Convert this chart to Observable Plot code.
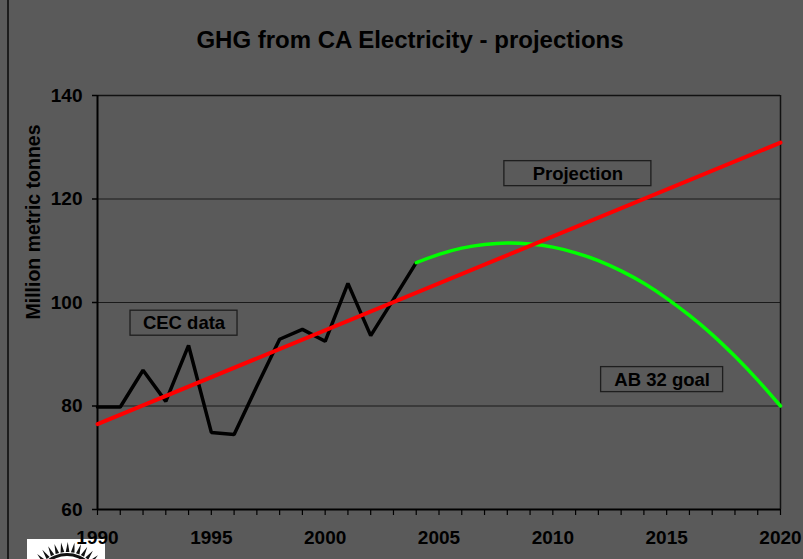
<!DOCTYPE html>
<html><head><meta charset="utf-8">
<script src="https://cdn.jsdelivr.net/npm/d3@7"></script>
<script src="https://cdn.jsdelivr.net/npm/@observablehq/plot@0.6"></script>
<style>
body{margin:0;background:#5a5a5a;}
#wrap{position:relative;width:803px;height:559px;background:#5a5a5a;overflow:hidden;font-family:"Liberation Sans",Arial,sans-serif;}
#edge{position:absolute;left:7px;top:0;width:1.5px;height:559px;background:#1c1c1c;}
#wrap svg{position:absolute;left:0;top:0;}
</style></head><body><div id="wrap"><div id="edge"></div></div>
<script>
// ---- data ----
const cecYears  = [1990,1991,1992,1993,1994,1995,1996,1997,1998,1999,2000,2001,2002,2003,2004];
const cecValues = [79.8,79.8,86.9,80.9,91.7,74.9,74.5,83.8,92.9,94.8,92.5,103.7,93.6,100.6,107.7];
const goalYears  = [2004,2005,2006,2007,2008,2009,2010,2011,2012,2013,2014,2015,2016,2017,2018,2019,2020];
const goalValues = [107.7,109.3,110.5,111.2,111.5,111.3,110.7,109.6,108.1,106.1,103.7,100.8,97.5,93.8,89.6,85.0,80.0];
const trendYears  = [1990,2020];
const trendValues = [76.5,130.9];
const yTicks = [60,80,100,120,140];
const gridValues = [80,100,120];
const xLabelTicks = [1990,1995,2000,2005,2010,2015,2020];
const xMinorTicks = [1990,1991,1992,1993,1994,1995,1996,1997,1998,1999,2000,2001,2002,2003,2004,2005,2006,2007,2008,2009,2010,2011,2012,2013,2014,2015,2016,2017,2018,2019,2020];
const annLabels = ["CEC data","Projection","AB 32 goal"];
const annX = [1993.8,2011.1,2014.8];
const annY = [96.0,124.9,85.1];
const titleText = "GHG from CA Electricity - projections";
const yLabelText = "Million metric tonnes";

// ---- tables ----
const cec = cecYears.map((x,i)=>({x, y: cecValues[i]}));
const goal = goalYears.map((x,i)=>({x, y: goalValues[i]}));
const trend = trendYears.map((x,i)=>({x, y: trendValues[i]}));
const anns = annLabels.map((t,i)=>({t, x: annX[i], y: annY[i]}));

const FONT = '"Liberation Sans", Arial, sans-serif';
const boxW = {"CEC data":107, "Projection":147, "AB 32 goal":122};
const boxH = 25;

const plot = Plot.plot({
  width: 803, height: 559,
  marginLeft: 97, marginRight: 23, marginTop: 95, marginBottom: 50,
  style: {background: "transparent", fontFamily: FONT, color: "#000", overflow: "visible"},
  x: {domain: [1990, 2020]},
  y: {domain: [60, 140]},
  marks: [
    Plot.ruleY(gridValues, {stroke: "#1a1a1a", strokeWidth: 1}),
    Plot.ruleY([140], {stroke: "#111", strokeWidth: 1.5}),
    Plot.ruleX([2020], {stroke: "#111", strokeWidth: 1.5}),
    Plot.axisY({ticks: yTicks, tickSize: 5, tickPadding: 10, fontSize: 19, fontWeight: "bold", label: null, strokeWidth: 1.5, tickFormat: d => String(d)}),
    Plot.axisX({ticks: xMinorTicks, tickSize: 6, tickFormat: () => "", label: null, strokeWidth: 1.2}),
    Plot.axisX({ticks: xLabelTicks, tickSize: 0, tickPadding: 21, tickFormat: d => String(d), fontSize: 19, fontWeight: "bold", label: null}),
    Plot.ruleX([1990], {stroke: "#000", strokeWidth: 2}),
    Plot.ruleY([60], {stroke: "#000", strokeWidth: 2}),
    Plot.line(cec, {x: "x", y: "y", stroke: "#000", strokeWidth: 3.5, strokeLinejoin: "miter"}),
    Plot.line(goal, {x: "x", y: "y", stroke: "#00ff00", strokeWidth: 3.5, curve: "natural"}),
    Plot.line(trend, {x: "x", y: "y", stroke: "#ff0000", strokeWidth: 4}),
    Plot.text(anns, {x: "x", y: "y", text: "t", fontSize: 18.5, fontWeight: "bold", fill: "#000"}),
    Plot.text([titleText], {frameAnchor: "top", dx: -29, dy: -48, lineAnchor: "bottom", textAnchor: "middle", fontSize: 24, fontWeight: "bold", fill: "#000"}),
    Plot.text([yLabelText], {frameAnchor: "top-left", dx: -64, dy: 126.5, rotate: -90, textAnchor: "middle", lineAnchor: "middle", fontSize: 19.5, fontWeight: "bold", fill: "#000"})
  ]
});
document.getElementById("wrap").appendChild(plot);

const svg = d3.select(plot);
const sx = plot.scale("x"), sy = plot.scale("y");

// annotation boxes
const boxes = svg.append("g");
anns.forEach(d => {
  const w = boxW[d.t];
  boxes.append("rect")
    .attr("x", sx.apply(d.x) - w/2)
    .attr("y", sy.apply(d.y) - boxH/2)
    .attr("width", w).attr("height", boxH)
    .attr("fill", "none").attr("stroke", "#1e1e1e").attr("stroke-width", 1.3);
});

// logo (decorative)
const logo = svg.insert("g", ":first-child");
const defs = logo.append("defs");
defs.append("clipPath").attr("id", "logoclip").append("rect")
  .attr("x", 27).attr("y", 539).attr("width", 78).attr("height", 20);
logo.append("rect").attr("x", 27).attr("y", 539).attr("width", 78).attr("height", 20).attr("fill", "#fff");
const lg = logo.append("g").attr("clip-path", "url(#logoclip)");
const cx = 67, cy = 585;
for (let a = -62; a <= 62; a += 9) {
  const r0 = 33, r1 = (Math.abs(a/9) % 2 === 0) ? 47 : 43;
  const t = a * Math.PI / 180, dt = 3.2 * Math.PI / 180;
  const p = (r, ang) => [cx + r*Math.sin(ang), cy - r*Math.cos(ang)];
  const [x1,y1] = p(r0, t-dt), [x2,y2] = p(r1, t), [x3,y3] = p(r0, t+dt);
  lg.append("path").attr("d", `M${x1},${y1}L${x2},${y2}L${x3},${y3}Z`).attr("fill", "#111");
}
lg.append("circle").attr("cx", cx).attr("cy", cy).attr("r", 32).attr("fill", "#111");
lg.append("circle").attr("cx", cx).attr("cy", cy).attr("r", 29).attr("fill", "#fff");
lg.append("ellipse").attr("cx", cx).attr("cy", cy - 20).attr("rx", 12).attr("ry", 5).attr("fill", "#111");
lg.append("ellipse").attr("cx", cx).attr("cy", cy - 19).attr("rx", 7).attr("ry", 2.5).attr("fill", "#fff");
</script>
</body></html>
